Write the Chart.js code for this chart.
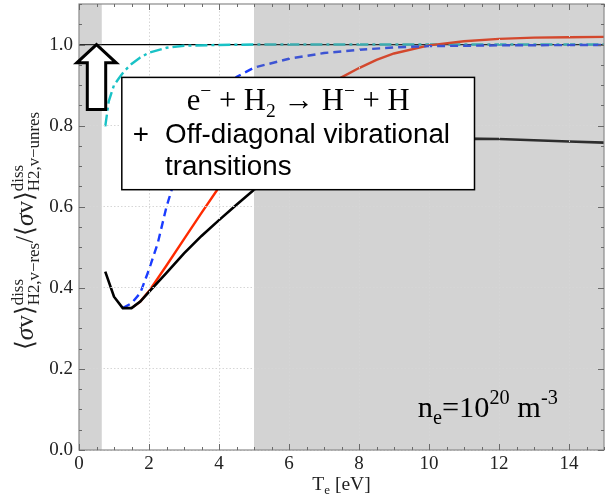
<!DOCTYPE html>
<html><head><meta charset="utf-8">
<script src="https://cdn.jsdelivr.net/npm/chart.js@4.4.0/dist/chart.umd.min.js"></script>
<style>html,body{margin:0;padding:0;background:#fff;}#wrap{width:609px;height:501px;}</style>
</head><body><div id="wrap"><canvas id="c" width="609" height="501"></canvas></div>
<script>
// ---- data ----
const blackX = [0.75, 1.0, 1.25, 1.5, 1.75, 2.0, 2.5, 3.0, 3.5, 4.0, 4.5, 5.0, 6, 7, 8, 9, 10, 11, 12, 13, 14, 15];
const blackY = [0.44, 0.378, 0.35, 0.35, 0.366, 0.39, 0.437, 0.485, 0.528, 0.567, 0.605, 0.642, 0.69, 0.722, 0.745, 0.758, 0.766, 0.768, 0.767, 0.764, 0.761, 0.758];
const redX = [1.5, 1.75, 2.0, 2.5, 3.0, 3.5, 4.0, 5, 6, 7, 7.5, 8, 8.5, 9, 10, 11, 12, 13, 14, 15];
const redY = [0.35, 0.366, 0.392, 0.455, 0.52, 0.585, 0.648, 0.755, 0.835, 0.893, 0.919, 0.942, 0.962, 0.978, 0.998, 1.008, 1.014, 1.017, 1.018, 1.019];
const blueX = [1.25, 1.5, 1.75, 2.0, 2.25, 2.5, 2.75, 3.0, 3.5, 4.0, 4.5, 5, 6, 7, 8, 9, 10, 12, 15];
const blueY = [0.35, 0.362, 0.387, 0.445, 0.51, 0.6, 0.67, 0.73, 0.815, 0.875, 0.92, 0.943, 0.965, 0.979, 0.987, 0.993, 0.996, 0.998, 0.999];
const cyanX = [0.75, 0.85, 1.0, 1.15, 1.3, 1.5, 1.75, 2.0, 2.5, 3.0, 4, 5, 7, 10, 15];
const cyanY = [0.798, 0.86, 0.9, 0.918, 0.935, 0.952, 0.968, 0.98, 0.992, 0.997, 0.999, 1.0, 1.0, 1.0, 1.0];

const xTicks = [0, 2, 4, 6, 8, 10, 12, 14];
const yTicks = [0.0, 0.2, 0.4, 0.6, 0.8, 1.0];
const shadeBands = [[0, 0.65], [5, 15]];
const refLineY = 1.0;

const SERIF = '"Liberation Serif", "DejaVu Serif", serif';
const SANS = '"Liberation Sans", Arial, sans-serif';

const pts = (xs, ys) => xs.map((x, i) => ({ x: x, y: ys[i] }));

function fontStr(p, k) { return (p.style || '') + ' ' + (p.size * k).toFixed(2) + 'px ' + (p.font || SERIF); }
function partWidth(ctx, p, k) {
  if (p.stack) return Math.max(...p.stack.map(s => { ctx.font = fontStr(s, k); return ctx.measureText(s.t).width; }));
  ctx.font = fontStr(p, k); return ctx.measureText(p.t).width;
}
function totalWidth(ctx, parts, k) { return parts.reduce((a, p) => a + partWidth(ctx, p, k), 0); }
function drawParts(ctx, parts, x, y, k) {
  let cx = x;
  parts.forEach(p => {
    if (p.stack) {
      p.stack.forEach(s => { ctx.font = fontStr(s, k); ctx.fillText(s.t, cx, y + (s.dy || 0) * k); });
    } else { ctx.font = fontStr(p, k); ctx.fillText(p.t, cx, y + (p.dy || 0) * k); }
    cx += partWidth(ctx, p, k);
  });
}

const decor = {
  id: 'decor',
  beforeDatasetsDraw(chart) {
    const { ctx, chartArea: a, scales: { y } } = chart;
    const py = y.getPixelForValue(refLineY);
    ctx.save(); ctx.strokeStyle = '#000'; ctx.lineWidth = 1.2;
    ctx.beginPath(); ctx.moveTo(a.left, py); ctx.lineTo(a.right, py); ctx.stroke(); ctx.restore();
  },
  afterDatasetsDraw(chart) {
    const { ctx, chartArea: a, scales: { x } } = chart;
    ctx.save();
    ctx.fillStyle = 'rgba(128,128,128,0.35)';
    shadeBands.forEach(b => {
      const x0 = x.getPixelForValue(b[0]), x1 = x.getPixelForValue(b[1]);
      ctx.fillRect(x0, a.top, x1 - x0, a.bottom - a.top);
    });
    ctx.restore();
  },
  afterDraw(chart) {
    const { ctx, chartArea: a, scales: { x, y } } = chart;
    ctx.save();
    // border
    ctx.strokeStyle = '#8a8a8a'; ctx.lineWidth = 1.2;
    ctx.strokeRect(a.left, a.top, a.right - a.left, a.bottom - a.top);
    // inward ticks
    ctx.strokeStyle = '#6a6a6a'; ctx.lineWidth = 1;
    ctx.beginPath();
    for (let v = 0; v <= 15.001; v += 0.5) {
      const px = Math.round(x.getPixelForValue(v)) + 0.5;
      const major = Math.abs(v / 2 - Math.round(v / 2)) < 1e-6;
      const L = major ? 6 : 3;
      ctx.moveTo(px, a.bottom); ctx.lineTo(px, a.bottom - L);
      ctx.moveTo(px, a.top); ctx.lineTo(px, a.top + L);
    }
    for (let v = 0; v <= 1.1001; v += 0.05) {
      const py = Math.round(y.getPixelForValue(v)) + 0.5;
      const major = Math.abs(v / 0.2 - Math.round(v / 0.2)) < 1e-6;
      const L = major ? 6 : 3;
      ctx.moveTo(a.left, py); ctx.lineTo(a.left + L, py);
      ctx.moveTo(a.right, py); ctx.lineTo(a.right - L, py);
    }
    ctx.stroke();

    // hollow arrow
    const tipX = x.getPixelForValue(0.5), tipY = y.getPixelForValue(1.0);
    const baseY = y.getPixelForValue(0.955), botY = y.getPixelForValue(0.84);
    const hw = 19.7, sw = 9.2;
    ctx.beginPath();
    ctx.moveTo(tipX, tipY);
    ctx.lineTo(tipX + hw, baseY); ctx.lineTo(tipX + sw, baseY); ctx.lineTo(tipX + sw, botY);
    ctx.lineTo(tipX - sw, botY); ctx.lineTo(tipX - sw, baseY); ctx.lineTo(tipX - hw, baseY);
    ctx.closePath();
    ctx.fillStyle = '#fff'; ctx.fill();
    ctx.strokeStyle = '#000'; ctx.lineWidth = 3; ctx.lineJoin = 'miter'; ctx.stroke();

    // text box
    const lx = x.getPixelForValue(1.223), rx = x.getPixelForValue(11.3);
    const ty = y.getPixelForValue(0.919), by = y.getPixelForValue(0.642);
    ctx.fillStyle = '#fff'; ctx.fillRect(lx, ty, rx - lx, by - ty);
    ctx.strokeStyle = '#000'; ctx.lineWidth = 1.5; ctx.strokeRect(lx, ty, rx - lx, by - ty);
    ctx.fillStyle = '#000'; ctx.textBaseline = 'alphabetic'; ctx.textAlign = 'left';
    const l1 = [
      { t: 'e', size: 22 }, { t: '\u2212', size: 14, dy: -9 }, { t: ' + H', size: 22 }, { t: '2', size: 14, dy: 5 },
      { t: ' \u2192 H', size: 22 }, { t: '\u2212', size: 14, dy: -9 }, { t: ' + H', size: 22 }
    ];
    let k1 = 223 / totalWidth(ctx, l1, 1);
    drawParts(ctx, l1, (lx + rx) / 2 - 223 / 2, ty + 32.3, k1);
    ctx.font = '25px ' + SANS;
    const w2 = ctx.measureText('Off-diagonal vibrational').width;
    const fs = 25 * 285 / w2;
    ctx.font = fs.toFixed(2) + 'px ' + SANS;
    ctx.fillText('+', lx + 11, ty + 65.6);
    ctx.fillText('Off-diagonal vibrational', lx + 43.3, ty + 65.6);
    ctx.fillText('transitions', lx + 43.3, ty + 97.3);

    // density label
    const nl = [
      { t: 'n', size: 27 }, { t: 'e', size: 18, dy: 6 }, { t: '=10', size: 27 }, { t: '20', size: 18, dy: -11 },
      { t: ' m', size: 27 }, { t: '-3', size: 18, dy: -11 }
    ];
    const kn = 140 / totalWidth(ctx, nl, 1);
    drawParts(ctx, nl, x.getPixelForValue(9.68), y.getPixelForValue(0.082), kn);

    // x title
    ctx.fillStyle = '#222';
    const xt = [{ t: 'T', size: 19.5 }, { t: 'e', size: 13, dy: 4 }, { t: ' [eV]', size: 19.5 }];
    const wx = totalWidth(ctx, xt, 1);
    drawParts(ctx, xt, (a.left + a.right) / 2 - wx / 2, 490, 1);

    // y title (rotated)
    const yt = [
      { t: '\u27E8', size: 18 }, { t: '\u03C3', size: 18, style: 'italic' }, { t: 'v\u27E9', size: 18 },
      { stack: [{ t: 'diss', size: 12, dy: -7 }, { t: 'H2,v\u2212res', size: 12, dy: 4 }] },
      { t: '/', size: 18 },
      { t: '\u27E8', size: 18 }, { t: '\u03C3', size: 18, style: 'italic' }, { t: 'v\u27E9', size: 18 },
      { stack: [{ t: 'diss', size: 12, dy: -7 }, { t: 'H2,v\u2212unres', size: 12, dy: 4 }] }
    ];
    const ky = 238 / totalWidth(ctx, yt, 1);
    ctx.translate(33, 231);
    ctx.rotate(-Math.PI / 2);
    drawParts(ctx, yt, -119, 0, ky);
    ctx.restore();
  }
};

const gridColor = c => (c.tick && Math.abs(c.tick.value - refLineY) < 1e-9 && c.scale.axis === 'y') ? 'rgba(0,0,0,0)' : '#d6d6d6';

new Chart(document.getElementById('c'), {
  type: 'line',
  data: {
    datasets: [
      { data: pts(blackX, blackY), borderColor: '#000', borderWidth: 2.6 },
      { data: pts(blueX, blueY), borderColor: '#1a3cff', borderWidth: 2.4, borderDash: [8, 5] },
      { data: pts(redX, redY), borderColor: '#ff2a00', borderWidth: 2.4 },
      { data: pts(cyanX, cyanY), borderColor: '#19c2c6', borderWidth: 2.4, borderDash: [12, 4, 3, 4] }
    ]
  },
  options: {
    responsive: false, animation: false,
    elements: { point: { radius: 0 }, line: { tension: 0, fill: false } },
    layout: { padding: { top: 4, right: 5, left: 0, bottom: 0 } },
    plugins: { legend: { display: false }, tooltip: { enabled: false } },
    scales: {
      x: {
        type: 'linear', min: 0, max: 15,
        afterBuildTicks: s => { s.ticks = xTicks.map(v => ({ value: v })); },
        afterFit: s => { s.height = 51; s.paddingLeft = 0; s.paddingRight = 0; },
        ticks: { font: { family: SERIF, size: 19 }, color: '#222', padding: 3, maxRotation: 0, autoSkip: false },
        grid: { color: gridColor, lineWidth: 1, drawTicks: false, z: 1 },
        border: { display: false, dash: [1.5, 2] }
      },
      y: {
        type: 'linear', min: 0, max: 1.1,
        afterBuildTicks: s => { s.ticks = yTicks.map(v => ({ value: v })); },
        afterFit: s => { s.width = 79; s.paddingTop = 0; s.paddingBottom = 0; },
        ticks: { font: { family: SERIF, size: 19 }, color: '#222', padding: 6, callback: v => v.toFixed(1) },
        grid: { color: gridColor, lineWidth: 1, drawTicks: false, z: 1 },
        border: { display: false, dash: [1.5, 2] }
      }
    }
  },
  plugins: [decor]
});
</script></body></html>
